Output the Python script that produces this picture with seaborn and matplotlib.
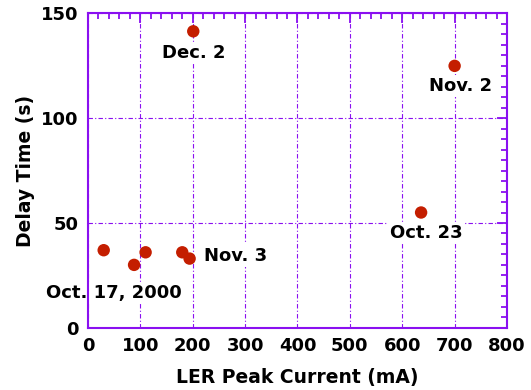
import matplotlib
matplotlib.use("Agg")
import matplotlib.pyplot as plt
import seaborn as sns
import pandas as pd
from matplotlib.ticker import MultipleLocator

# Data
current_mA = [30, 88, 110, 180, 194, 201, 700, 636]
delay_s = [37, 30, 36, 36, 33, 141.5, 125, 55]

labels = ["Oct. 17, 2000", "Nov. 3", "Dec. 2", "Nov. 2", "Oct. 23"]
label_x = [50, 221, 201, 711, 645]
label_y = [16.7, 34.4, 131, 115.4, 45.1]
label_ha = ["center", "left", "center", "center", "center"]

x_ticks = [0, 100, 200, 300, 400, 500, 600, 700, 800]
y_ticks = [0, 50, 100, 150]

sns.set_style("white")
plt.rcParams['font.family'] = ['DejaVu Sans']
plt.rcParams['font.weight'] = 'bold'
plt.rcParams['text.color'] = 'black'
plt.rcParams['axes.labelcolor'] = 'black'
plt.rcParams['xtick.labelcolor'] = 'black'
plt.rcParams['ytick.labelcolor'] = 'black'

purple = "#8a10f0"
pt_color = "#c41e00"

df = pd.DataFrame({"x": current_mA, "y": delay_s})

fig = plt.figure(figsize=(5.31, 3.9), dpi=100)
ax = fig.add_axes([0.1657, 0.1597, 0.7891, 0.8057])

ax.grid(True, which="major", color=purple, linestyle=(0, (4, 2, 1, 2)), linewidth=0.8, zorder=0)
ax.set_axisbelow(True)

sns.scatterplot(data=df, x="x", y="y", ax=ax, color=pt_color, s=80, edgecolor="none", zorder=3)

for t, xx, yy, ha in zip(labels, label_x, label_y, label_ha):
    ax.text(xx, yy, t, ha=ha, va="center", fontsize=13, fontweight="bold", color="black",
            bbox=dict(facecolor="white", edgecolor="none", pad=1.5), zorder=2)

ax.set_xlim(0, 800)
ax.set_ylim(0, 150)
ax.set_xticks(x_ticks)
ax.set_yticks(y_ticks)
ax.xaxis.set_minor_locator(MultipleLocator(20))
ax.yaxis.set_minor_locator(MultipleLocator(5))
ax.tick_params(which="both", direction="in", top=True, right=True, color=purple, width=1.3)
ax.tick_params(which="major", length=7, labelsize=13, pad=7, labelcolor="black")
ax.tick_params(which="minor", length=4)
for lab in ax.get_xticklabels() + ax.get_yticklabels():
    lab.set_fontweight("bold")

for sp in ax.spines.values():
    sp.set_color(purple)
    sp.set_linewidth(1.5)
    sp.set_visible(True)

ax.set_xlabel("LER Peak Current (mA)", fontsize=13.5, fontweight="bold", labelpad=9, color="black")
ax.set_ylabel("Delay Time (s)", fontsize=13.5, fontweight="bold", labelpad=4, color="black")

fig.savefig("out.png", dpi=100)
